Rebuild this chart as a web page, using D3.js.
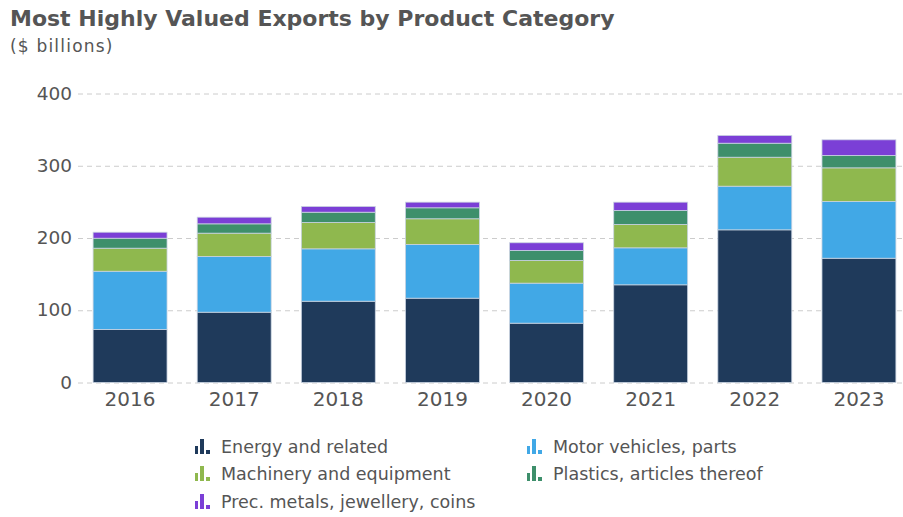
<!DOCTYPE html>
<html><head><meta charset="utf-8">
<script src="https://cdn.jsdelivr.net/npm/d3@7"></script>
<style>
body{margin:0;background:#fff;}
svg{display:block;font-family:Verdana,"DejaVu Sans",sans-serif;}
</style></head>
<body><svg id="c" width="903" height="517"></svg>
<script>
const years = ["2016","2017","2018","2019","2020","2021","2022","2023"];
const seriesNames = ["Energy and related","Motor vehicles, parts","Machinery and equipment","Plastics, articles thereof","Prec. metals, jewellery, coins"];
const energy    = [73.4, 97.3, 112.5, 116.7, 82.1, 135.2, 211.3, 172.0];
const motor     = [80.6, 77.1, 72.5, 74.3, 55.4, 51.2, 60.4, 78.5];
const machinery = [31.9, 32.3, 36.5, 35.6, 31.4, 32.3, 40.1, 46.6];
const plastics  = [13.8, 12.9, 14.2, 15.2, 13.8, 19.4, 19.4, 17.1];
const metals    = [8.3, 9.2, 7.9, 7.8, 10.7, 11.5, 10.7, 21.7];
const yTicks = [0, 100, 200, 300, 400];
const colors = ["#1f3a5b", "#41a8e6", "#8fb84e", "#3e8f6b", "#7b3fd6"];

const seriesVals = [energy, motor, machinery, plastics, metals];
const rows = years.map((y, i) => {
  const r = {year: y};
  seriesNames.forEach((s, k) => r[s] = seriesVals[k][i]);
  return r;
});
const stacked = d3.stack().keys(seriesNames)(rows);

const svg = d3.select("#c");
const x = d3.scaleBand().domain(years).range([78, 911]).paddingInner(0.29).paddingOuter(0.145);
const y = d3.scaleLinear().domain([0, 400]).range([382.5, 93.5]);

// title
svg.append("text").attr("x", 10).attr("y", 26).attr("fill", "#555").attr("font-size", 22).attr("font-weight", "bold").text("Most Highly Valued Exports by Product Category");
svg.append("text").attr("x", 10).attr("y", 52).attr("fill", "#555").attr("font-size", 17).attr("letter-spacing", 1.2).text("($ billions)");

// grid
const gy = svg.append("g").attr("transform", "translate(78,0)")
  .call(d3.axisLeft(y).tickValues(yTicks).tickSize(-825).tickPadding(6).tickFormat(d3.format("d")));
gy.select(".domain").remove();
gy.selectAll(".tick line").attr("stroke", "#ccc").attr("stroke-dasharray", "5,4");
gy.selectAll(".tick text").attr("fill", "#555").attr("font-size", 18.5).attr("font-family", "Verdana, DejaVu Sans, sans-serif").attr("x", -6).attr("dy", "0.3em");

// bars
svg.append("g").selectAll("g").data(stacked).join("g")
  .attr("fill", (d, i) => colors[i])
  .selectAll("rect").data(d => d).join("rect")
  .attr("x", d => x(d.data.year))
  .attr("width", x.bandwidth())
  .attr("y", d => y(d[1]))
  .attr("height", d => y(d[0]) - y(d[1]))
  .attr("stroke", "#c9d3e0").attr("stroke-width", 0.8);

// x axis
const gx = svg.append("g").attr("transform", "translate(0,382.5)")
  .call(d3.axisBottom(x).tickSize(0).tickPadding(9));
gx.select(".domain").remove();
gx.selectAll(".tick text").attr("fill", "#555").attr("font-size", 20).attr("font-family", "Verdana, DejaVu Sans, sans-serif");

// legend
const legPos = [[193, 447], [525, 447], [193, 474], [525, 474], [193, 502]];
const leg = svg.append("g").selectAll("g").data(seriesNames).join("g")
  .attr("transform", (d, i) => `translate(${legPos[i][0]},${legPos[i][1]})`);
leg.append("rect").attr("x", 2).attr("y", -1).attr("width", 3).attr("height", 8).attr("fill", (d, i) => colors[i]);
leg.append("rect").attr("x", 7).attr("y", -8).attr("width", 4).attr("height", 15).attr("fill", (d, i) => colors[i]);
leg.append("rect").attr("x", 13).attr("y", 3).attr("width", 4).attr("height", 4).attr("fill", (d, i) => colors[i]);
leg.append("text").attr("x", 28).attr("y", 6).attr("fill", "#555").attr("font-size", 17.5).text(d => d);
</script></body></html>
